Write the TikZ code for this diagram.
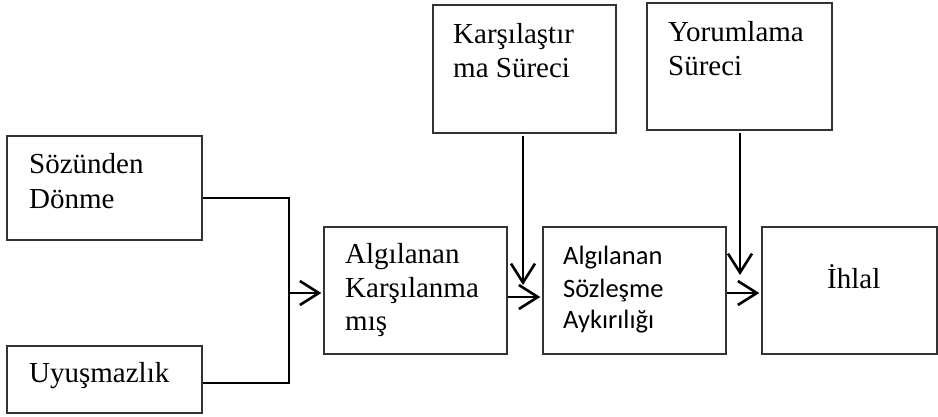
\documentclass[tikz,border=0pt]{standalone}
\usepackage{fontspec}
\setmainfont{Liberation Serif}
\newfontfamily\calibrifont{Carlito}
\usetikzlibrary{arrows.meta}
\begin{document}
\begin{tikzpicture}[x=1pt,y=-1pt,
  box/.style={draw=black!80, line width=1.4pt, inner sep=0pt},
  serif/.style={font=\fontsize{29}{34}\selectfont, anchor=base west, inner sep=0pt},
  sans/.style={font=\calibrifont\fontsize{26.5}{32}\selectfont, anchor=base west, inner sep=0pt},
  tip/.style={-{Straight Barb[length=19pt,width=24pt,line width=2.6pt]}},
  flow/.style={tip, line width=2.6pt, shorten >=2pt},
  drop/.style={tip, line width=2.6pt, shorten <=2pt},
  link/.style={line width=1.8pt}]
\useasboundingbox (0,0) rectangle (938,416);

% boxes
\node[box, minimum width=195pt, minimum height=104pt] (soz) at (104.5,188) {};
\node[box, minimum width=195pt, minimum height=67pt]  (uyu) at (104.5,379.5) {};
\node[box, minimum width=183pt, minimum height=127pt] (alg) at (415.5,290.5) {};
\node[box, minimum width=183pt, minimum height=127pt] (szl) at (634.5,290.5) {};
\node[box, minimum width=175pt, minimum height=127pt] (ihl) at (849.5,290.5) {};
\node[box, minimum width=183pt, minimum height=128pt] (kar) at (524.5,69) {};
\node[box, minimum width=185pt, minimum height=127pt] (yor) at (739.5,66.5) {};

% labels
\node[serif] (sozA) at (29,173) {Sözünden};
\node[serif] (sozB) at (29,208) {Dönme};
\node[serif] (uyuA) at (29,382) {Uyuşmazlık};
\node[serif] (algA) at (345,263) {Algılanan};
\node[serif] (algB) at (345,297) {Karşılanma};
\node[serif] (algC) at (345,330) {mış};
\node[sans]  (szlA) at (563,264) {Algılanan};
\node[sans]  (szlB) at (563,297) {Sözleşme};
\node[sans]  (szlC) at (563,328) {Aykırılığı};
\node[serif] (ihlA) at (827,288) {İhlal};
\node[serif] (karA) at (453,43) {Karşılaştır};
\node[serif] (karB) at (453,77) {ma Süreci};
\node[serif] (yorA) at (668,41) {Yorumlama};
\node[serif] (yorB) at (668,75) {Süreci};

% connectors
\coordinate (jtop) at (289,198);
\coordinate (jbot) at (289,383);
\coordinate (jmid) at (289,293);
\draw[link] (soz.east |- jtop) -- (jtop) -- (jbot) -- (uyu.east |- jbot);
\draw[flow] (jmid) -- (alg.west |- jmid);

\coordinate (rowB) at (0,297);
\coordinate (rowC) at (0,293);
\draw[flow] (alg.east |- rowB) -- (szl.west |- rowB);
\draw[flow] (szl.east |- rowC) -- (ihl.west |- rowC);

\coordinate (karend) at (523,285);
\coordinate (yorend) at (740,275);
\draw[drop] (kar.south -| karend) -- (karend);
\draw[drop] (yor.south -| yorend) -- (yorend);
\end{tikzpicture}
\end{document}
